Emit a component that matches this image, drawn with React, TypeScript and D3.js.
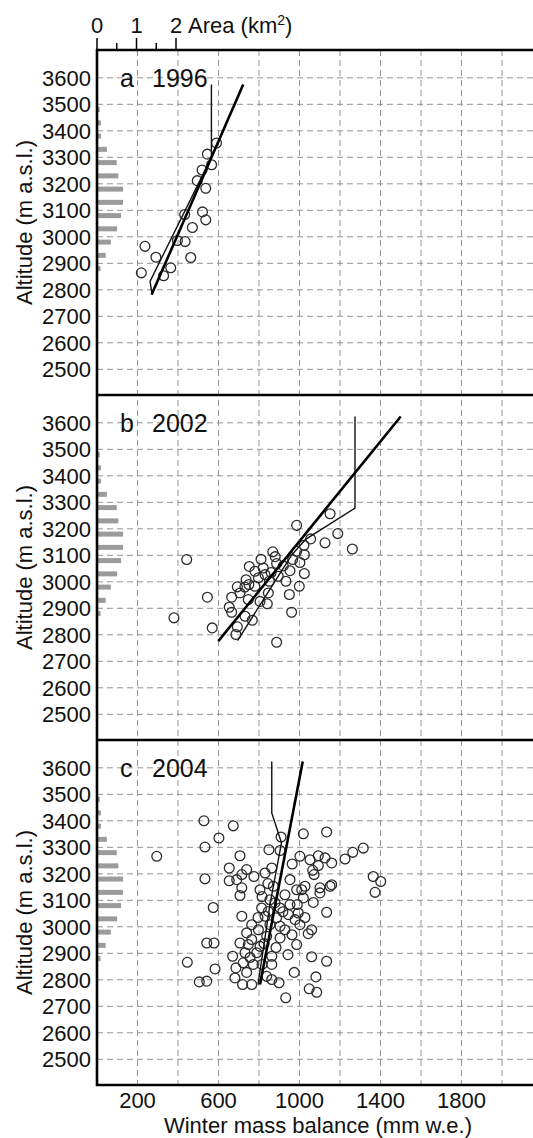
import { useEffect, useRef } from "react";
import * as d3 from "d3";

type Pt = [number, number];

// glacier area per 50 m altitude band (same hypsometry in every panel)
const bandAlt = [3480, 3430, 3380, 3330, 3280, 3230, 3180, 3130, 3080, 3030, 2980, 2930, 2880];
const bandArea = [0.07, 0.1, 0.1, 0.25, 0.5, 0.54, 0.66, 0.66, 0.61, 0.51, 0.35, 0.22, 0.09];

const altTicks = [3600, 3500, 3400, 3300, 3200, 3100, 3000, 2900, 2800, 2700, 2600, 2500];
const mbTicks = [200, 600, 1000, 1400, 1800];
const mbGrid = [200, 400, 600, 800, 1000, 1200, 1400, 1600, 1800, 2000, 2200];
const areaTicks = [0, 1, 2];
const areaMinor = [0.5, 1.5];

const panelKeys = ["a", "b", "c"];
const panelYears = ["1996", "2002", "2004"];

// [winter balance mm w.e., altitude m]
const pts1996: Pt[] = [
  [590, 3354], [545, 3312], [566, 3272], [519, 3252], [495, 3212], [537, 3183],
  [433, 3084], [521, 3094], [537, 3064], [471, 3035], [397, 2986], [435, 2982],
  [237, 2964], [291, 2923], [463, 2922], [364, 2883], [219, 2864], [329, 2853],
];
const fit1996: Pt[] = [[270, 2782], [722, 3575]];
const prof1996: Pt[] = [[272, 2782], [262, 2832], [565, 3300], [565, 3575]];

const pts2002: Pt[] = [
  [1151, 3257], [986, 3213], [1189, 3182], [1055, 3162], [1126, 3147], [1261, 3124],
  [443, 3084], [868, 3113], [986, 3115], [1022, 3138], [1024, 3102], [966, 3084],
  [1002, 3073], [887, 3069], [752, 3058], [821, 3052], [780, 3040], [953, 3042],
  [1024, 3031], [895, 3021], [830, 3027], [797, 3015], [736, 3008], [851, 3002],
  [933, 3002], [693, 2981], [780, 2983], [999, 2983], [706, 2958], [846, 2958],
  [950, 2952], [545, 2942], [665, 2942], [747, 2933], [805, 2926], [841, 2917],
  [653, 2904], [665, 2885], [961, 2885], [731, 2870], [380, 2864], [767, 2855],
  [693, 2830], [569, 2826], [686, 2801], [887, 2772], [920, 3060], [810, 3085],
  [730, 2980], [880, 3095], [750, 2990], [860, 3035],
];
const fit2002: Pt[] = [[599, 2776], [1500, 3624]];
const prof2002: Pt[] = [[694, 2778], [960, 3100], [1030, 3160], [1274, 3278], [1274, 3624]];

const pts2004: Pt[] = [
  [528, 3400], [673, 3381], [602, 3335], [909, 3339], [533, 3301], [295, 3266],
  [706, 3268], [849, 3291], [904, 3288], [964, 3237], [653, 3222], [739, 3216],
  [715, 3197], [830, 3203], [863, 3222], [775, 3190], [533, 3181], [653, 3174],
  [690, 3178], [715, 3147], [805, 3140], [871, 3153], [706, 3118], [928, 3121],
  [854, 3102], [986, 3140], [574, 3073], [846, 3058], [904, 3071], [953, 3084],
  [715, 3040], [887, 3034], [945, 3046], [978, 3027], [764, 3008], [854, 3008],
  [904, 3002], [797, 2989], [739, 2977], [764, 2952], [838, 2964], [904, 2958],
  [542, 2939], [578, 2939], [706, 2939], [747, 2933], [805, 2926], [986, 2933],
  [731, 2902], [789, 2902], [863, 2889], [670, 2889], [446, 2866], [722, 2864],
  [772, 2858], [863, 2858], [583, 2841], [686, 2845], [739, 2828], [974, 2828],
  [681, 2807], [505, 2792], [542, 2795], [719, 2782], [764, 2782], [863, 2801],
  [899, 2789], [932, 2732], [838, 2813], [813, 3071], [830, 3040],
  [1019, 3351], [1134, 3358], [1315, 3297], [1263, 3281], [1225, 3256], [1002, 3266],
  [1052, 3253], [1093, 3268], [1126, 3260], [1159, 3241], [1093, 3231], [1065, 3213],
  [1072, 3197], [1364, 3190], [1401, 3171], [1373, 3130], [1159, 3159], [1151, 3153],
  [1101, 3147], [1027, 3153], [1011, 3140], [1101, 3128], [1019, 3109], [1068, 3092],
  [1134, 3055], [989, 3084], [994, 3052], [1060, 2989], [1043, 2974], [1060, 2887],
  [1134, 2870], [1081, 2811], [1048, 2766], [1085, 2753],
  [815, 3114], [879, 3091], [928, 2989], [795, 3035], [825, 2937], [884, 2922],
  [943, 2895], [756, 2884], [815, 2858], [918, 3057], [963, 2970], [844, 3163],
  [1002, 3008], [1027, 3035], [953, 3178],
];
const fit2004: Pt[] = [[805, 2782], [1016, 3624]];
const prof2004: Pt[] = [[795, 2782], [854, 3084], [911, 3317], [863, 3430], [863, 3624]];

const panelPts = [pts1996, pts2002, pts2004];
const panelFit = [fit1996, fit2002, fit2004];
const panelProf = [prof1996, prof2002, prof2004];

const FONT = "'Liberation Sans', Arial, Helvetica, sans-serif";

export default function App() {
  const svgRef = useRef<SVGSVGElement>(null);

  useEffect(() => {
    if (!svgRef.current) return;
    const svg = d3.select(svgRef.current);
    svg.selectAll("*").remove();

    const left = 97;
    const top = 50;
    const panelH = 345;
    const right = 543;
    const bottom = top + panelH * 3;

    const x = d3.scaleLinear().domain([0, 2200]).range([left, 542.5]);
    const xArea = d3.scaleLinear().domain([0, 1]).range([left, 136.5]);

    // vertical dashed grid across all panels
    svg
      .append("g")
      .selectAll("line")
      .data(mbGrid)
      .join("line")
      .attr("x1", (d) => x(d))
      .attr("x2", (d) => x(d))
      .attr("y1", top)
      .attr("y2", bottom)
      .attr("stroke", "#939393")
      .attr("stroke-width", 1)
      .attr("stroke-dasharray", "6,4");

    panelKeys.forEach((key, i) => {
      const pTop = top + i * panelH;
      const y = d3.scaleLinear().domain([2403, 3705]).range([pTop + panelH, pTop]);
      const g = svg.append("g");

      g.selectAll("line.h")
        .data(altTicks)
        .join("line")
        .attr("class", "h")
        .attr("x1", left)
        .attr("x2", right)
        .attr("y1", (d) => y(d))
        .attr("y2", (d) => y(d))
        .attr("stroke", "#939393")
        .attr("stroke-width", 1)
        .attr("stroke-dasharray", "6,4");

      // area histogram
      g.selectAll("rect")
        .data(bandAlt)
        .join("rect")
        .attr("x", left)
        .attr("y", (d) => y(d) - 2.5)
        .attr("width", (_, j) => xArea(bandArea[j]) - left)
        .attr("height", 5)
        .attr("fill", "#9b9b9b");

      // tick labels
      g.selectAll("text.yt")
        .data(altTicks)
        .join("text")
        .attr("class", "yt")
        .attr("x", 91)
        .attr("y", (d) => y(d))
        .attr("dy", "0.36em")
        .attr("text-anchor", "end")
        .style("font-family", FONT)
        .style("font-size", "22px")
        .attr("fill", "#111")
        .text((d) => d);

      g.append("text")
        .attr("transform", `translate(32,${pTop + panelH / 2}) rotate(-90)`)
        .attr("text-anchor", "middle")
        .style("font-family", FONT)
        .style("font-size", "22px")
        .attr("fill", "#111")
        .text("Altitude (m a.s.l.)");

      // observations
      g.selectAll("circle")
        .data(panelPts[i])
        .join("circle")
        .attr("cx", (d) => x(d[0]))
        .attr("cy", (d) => y(d[1]))
        .attr("r", 4.9)
        .attr("fill", "none")
        .attr("stroke", "#2b2b2b")
        .attr("stroke-width", 1.3);

      const line = d3
        .line<Pt>()
        .x((d) => x(d[0]))
        .y((d) => y(d[1]));

      g.append("path")
        .attr("d", line(panelProf[i]))
        .attr("fill", "none")
        .attr("stroke", "#111")
        .attr("stroke-width", 1.4);

      g.append("path")
        .attr("d", line(panelFit[i]))
        .attr("fill", "none")
        .attr("stroke", "#000")
        .attr("stroke-width", 2.6);

      g.append("text")
        .attr("x", 120)
        .attr("y", pTop + 37)
        .style("font-family", FONT)
        .style("font-size", "25px")
        .attr("fill", "#111")
        .text(key);
      g.append("text")
        .attr("x", 152)
        .attr("y", pTop + 37)
        .style("font-family", FONT)
        .style("font-size", "25px")
        .attr("fill", "#111")
        .text(panelYears[i]);
    });

    // frame
    const frame = svg.append("g").attr("stroke", "#000").attr("stroke-width", 2.6);
    frame.append("line").attr("x1", left).attr("x2", left).attr("y1", top - 1).attr("y2", bottom + 1);
    [0, 1, 2, 3].forEach((k) => {
      frame
        .append("line")
        .attr("x1", left - 1)
        .attr("x2", right)
        .attr("y1", top + k * panelH)
        .attr("y2", top + k * panelH);
    });

    // area axis on top
    const ta = svg.append("g").attr("stroke", "#000").attr("stroke-width", 1.5);
    ta.selectAll("line.maj")
      .data(areaTicks)
      .join("line")
      .attr("class", "maj")
      .attr("x1", (d) => xArea(d))
      .attr("x2", (d) => xArea(d))
      .attr("y1", top)
      .attr("y2", 38);
    ta.selectAll("line.min")
      .data(areaMinor)
      .join("line")
      .attr("class", "min")
      .attr("x1", (d) => xArea(d))
      .attr("x2", (d) => xArea(d))
      .attr("y1", top)
      .attr("y2", 43);

    svg
      .append("g")
      .selectAll("text")
      .data(areaTicks)
      .join("text")
      .attr("x", (d) => xArea(d))
      .attr("y", 33)
      .attr("text-anchor", "middle")
      .style("font-family", FONT)
      .style("font-size", "22px")
      .attr("fill", "#111")
      .text((d) => d);

    const at = svg
      .append("text")
      .attr("x", 188)
      .attr("y", 33)
      .style("font-family", FONT)
      .style("font-size", "22px")
      .attr("fill", "#111");
    at.append("tspan").text("Area (km");
    at.append("tspan").attr("dy", -8).style("font-size", "14px").text("2");
    at.append("tspan").attr("dy", 8).text(")");

    // bottom axis labels
    svg
      .append("g")
      .selectAll("text")
      .data(mbTicks)
      .join("text")
      .attr("x", (d) => x(d))
      .attr("y", 1108)
      .attr("text-anchor", "middle")
      .style("font-family", FONT)
      .style("font-size", "22px")
      .attr("fill", "#111")
      .text((d) => d);

    svg
      .append("text")
      .attr("x", 318)
      .attr("y", 1133)
      .attr("text-anchor", "middle")
      .style("font-family", FONT)
      .style("font-size", "22px")
      .attr("fill", "#111")
      .text("Winter mass balance (mm w.e.)");
  }, []);

  return (
    <svg
      ref={svgRef}
      width={533}
      height={1138}
      style={{ position: "absolute", left: 0, top: 0, display: "block", background: "#fff" }}
    />
  );
}
